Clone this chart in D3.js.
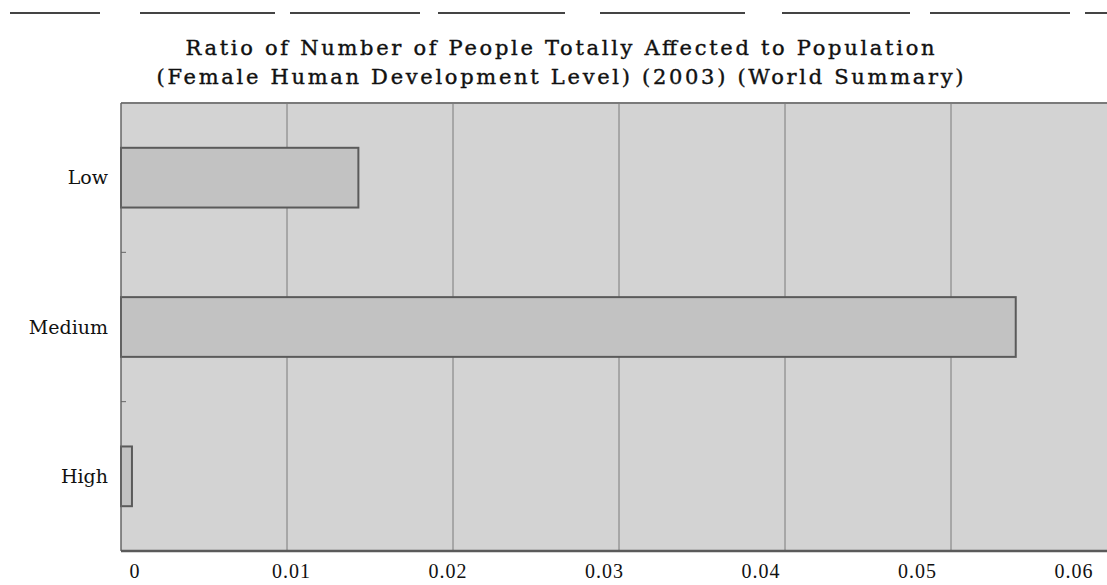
<!DOCTYPE html>
<html>
<head>
<meta charset="utf-8">
<script src="https://cdn.jsdelivr.net/npm/d3@7"></script>
<style>
  html, body { margin: 0; padding: 0; background: #fff; }
  svg { display: block; }
</style>
</head>
<body>
<div id="chart"></div>
<script>
// chart data
const titleLines = [
  "Ratio of Number of People Totally Affected to Population",
  "(Female Human Development Level) (2003) (World Summary)"
];
const categories = ["Low", "Medium", "High"];
const values = [0.0143, 0.0539, 0.00066];
const xTicks = [0, 0.01, 0.02, 0.03, 0.04, 0.05, 0.06];

const width = 1107, height = 585;
const margin = { top: 103, right: 0, bottom: 34, left: 121 };
const plotBottom = height - margin.bottom;

const svg = d3.select("#chart")
  .append("svg")
  .attr("width", width)
  .attr("height", height);

// scanned page residue at the top
svg.append("line")
  .attr("x1", 10).attr("x2", width)
  .attr("y1", 13).attr("y2", 13)
  .attr("stroke", "#444")
  .attr("stroke-width", 2)
  .attr("stroke-dasharray", "90,40,135,15,130,18,127,35,145,37,128,20,140,15,30");

// title, two lines
const titleWidths = [749, 807];
const titleY = [55, 84];
titleLines.forEach((t, i) => {
  svg.append("text")
    .attr("x", 560)
    .attr("y", titleY[i])
    .attr("text-anchor", "middle")
    .attr("textLength", titleWidths[i])
    .attr("lengthAdjust", "spacing")
    .style("font-family", "'DejaVu Serif', serif")
    .style("font-size", "21px")
    .style("fill", "#111")
    .style("stroke", "#111")
    .style("stroke-width", 0.4)
    .text(t);
});

// scales
const x = d3.scaleLinear()
  .domain([0, 0.06])
  .range([margin.left, 1117]);

// the printed labels drift a little from the grid lines
const xLabel = d3.scaleLinear()
  .domain([0, 0.06])
  .range([135, 1074]);

const y = d3.scaleBand()
  .domain(categories)
  .range([margin.top, plotBottom])
  .paddingInner(0.6)
  .paddingOuter(0.3);

// plot background
svg.append("rect")
  .attr("x", margin.left)
  .attr("y", margin.top)
  .attr("width", width - margin.left)
  .attr("height", plotBottom - margin.top)
  .attr("fill", "#d3d3d3");

// vertical grid lines
svg.append("g")
  .selectAll("line")
  .data(xTicks.slice(1))
  .enter()
  .append("line")
  .attr("x1", d => x(d)).attr("x2", d => x(d))
  .attr("y1", margin.top).attr("y2", plotBottom)
  .attr("stroke", "#7a7a7a")
  .attr("stroke-width", 1);

// small ticks between categories on the left edge
const bandH = (plotBottom - margin.top) / categories.length;
svg.append("g")
  .selectAll("line")
  .data(categories.slice(1))
  .enter()
  .append("line")
  .attr("x1", margin.left).attr("x2", margin.left + 5)
  .attr("y1", d => margin.top + categories.indexOf(d) * bandH)
  .attr("y2", d => margin.top + categories.indexOf(d) * bandH)
  .attr("stroke", "#666")
  .attr("stroke-width", 1);

// bars
svg.append("g")
  .selectAll("rect")
  .data(categories)
  .enter()
  .append("rect")
  .attr("x", x(0))
  .attr("y", d => y(d))
  .attr("width", (d, i) => x(values[i]) - x(0))
  .attr("height", y.bandwidth())
  .attr("fill", "#c2c2c2")
  .attr("stroke", "#5a5a5a")
  .attr("stroke-width", 2);

// plot frame: top, left, bottom
svg.append("line")
  .attr("x1", margin.left).attr("x2", width)
  .attr("y1", margin.top).attr("y2", margin.top)
  .attr("stroke", "#7a7a7a").attr("stroke-width", 2);
svg.append("line")
  .attr("x1", margin.left).attr("x2", margin.left)
  .attr("y1", margin.top).attr("y2", plotBottom)
  .attr("stroke", "#666").attr("stroke-width", 1.5);
svg.append("line")
  .attr("x1", margin.left).attr("x2", width)
  .attr("y1", plotBottom).attr("y2", plotBottom)
  .attr("stroke", "#5a5a5a").attr("stroke-width", 2.5);

// category labels
svg.append("g")
  .selectAll("text")
  .data(categories)
  .enter()
  .append("text")
  .attr("x", 108)
  .attr("y", d => y(d) + y.bandwidth() / 2)
  .attr("dy", "0.35em")
  .attr("text-anchor", "end")
  .style("font-family", "'DejaVu Serif', serif")
  .style("font-size", "19px")
  .style("fill", "#111")
  .text(d => d);

// x tick labels
svg.append("g")
  .selectAll("text")
  .data(xTicks)
  .enter()
  .append("text")
  .attr("x", d => xLabel(d))
  .attr("y", 578)
  .attr("text-anchor", "middle")
  .style("font-family", "'Liberation Serif', serif")
  .style("font-size", "20px")
  .style("letter-spacing", "1px")
  .style("fill", "#111")
  .text(d => d === 0 ? "0" : d3.format(".2f")(d));
</script>
</body>
</html>
